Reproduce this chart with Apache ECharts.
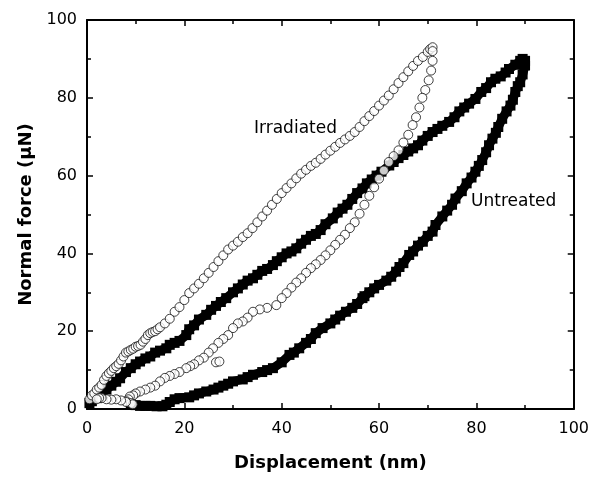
<!DOCTYPE html>
<html>
<head>
<meta charset="utf-8">
<script src="https://cdn.jsdelivr.net/npm/echarts@6/dist/echarts.min.js"></script>
<style>
html,body{margin:0;padding:0;background:#fff;}
#chart{width:592px;height:477px;}
</style>
</head>
<body>
<div id="chart"></div>
<script>
// ---- data (displacement nm, normal force uN) ----
var irradiatedLoading = [
  [0.5,2.5],[1,3.5],[1.5,4],[2,5],[2.5,5.5],[3,6.2],[3.5,7.5],[4,8.5],[4.5,9.2],[5,9.8],
  [5.5,10.5],[6,11],[6.5,11.6],[7,12.5],[7.5,13.5],[8,14.5],[8.5,14.8],[9,15.2],[9.5,15.5],[10,16],
  [10.5,16.2],[11,16.5],[11.5,17.3],[12,18],[12.5,19],[13,19.5],[13.5,19.8],[14,20],[14.5,20.5],[15,21],
  [16,22],[17,23.2],[18,25],[19,26.2],[20,28],[21,29.8],[22,31],[23,32.2],[24,33.6],[25,35],
  [26,36.5],[27,38],[28,39.5],[29,41],[30,42],[31,43],[32,44.2],[33,45.2],[34,46.5],[35,48],
  [36,49.5],[37,51],[38,52.5],[39,54],[40,55.5],[41,56.8],[42,58],[43,59.3],[44,60.5],[45,61.5],
  [46,62.5],[47,63.3],[48,64.3],[49,65.4],[50,66.4],[51,67.4],[52,68.4],[53,69.3],[54,70.2],[55,71.2],
  [56,72.5],[57,74],[58,75.3],[59,76.6],[60,78],[61,79.3],[62,80.6],[63,82.2],[64,83.8],[65,85.3],
  [66,86.8],[67,88.2],[68,89.5],[69,90.5],[70,91.8],[70.5,92.5],[71,93]
];
var irradiatedUnloading = [
  [71,92],[71,89.5],[70.7,87],[70.2,84.5],[69.5,82],[68.9,80],[68.3,77.5],[67.6,75],[66.9,73],[66,70.5],
  [65,68.5],[64,66.5],[63,65],[62,63.5],[61,61.3],[60,59.2],[59,57],[58,54.8],[57,52.5],[56,50.2],
  [55,48],[54,46.5],[53,44.8],[52,43.5],[51,42.2],[50,40.8],[49,39.5],[48,38.3],[47,37.2],[46,36.2],
  [45,35],[44,33.6],[43,32.5],[42,31.2],[41,29.8],[40,28.5],[38.9,26.7],[37,26],[35.5,25.6],[34.1,25],
  [33,23.5],[32,22.5],[31,22],[30,20.8],[29,19],[28,18],[27,17],[25.9,15.6],[25,14.5],[24,13.2],
  [23,12.5],[22,11.5],[21.2,11],[20.4,10.5],[19,9.5],[18,9],[17,8.5],[16,8],[15,7.1],[14,6],
  [13,5.5],[12,5],[10.9,4.5],[10,4],[9.5,3.5],[8.8,3.2],[8.5,2.5],[8.1,2],[9,1.5],[9.4,1.2],
  [8,1.8],[7,2.2],[6,2.5],[5,2.4],[4,2.5],[3,2.8],[2.5,2.8],[2,2.5],[26.5,12],[27.2,12.2]
];
var untreatedLoading = [
  [0.5,1.5],[1,2],[2,2.8],[3,4],[4,5],[5,6],[6,7],[6.8,7.9],[8,9.5],[9,10.5],
  [10,11.5],[10.9,12.2],[12,13],[13,13.5],[14,14.5],[15,15],[16.3,15.6],[17,16.5],[18,17],[19,17.5],
  [20.4,19],[21,20.5],[22,21.5],[23,23],[24.5,24.2],[25.5,25.5],[26.5,26.5],[27.5,27.5],[28.6,28.5],[30,30],
  [31,31],[32,32],[33,33],[34.1,33.6],[35,34.5],[36,35.5],[37,36],[38.2,37],[39,38],[40,39],
  [41,40],[42,40.5],[43,41.3],[44,42.5],[45,43.5],[46,44.5],[47,45],[48,46],[49,47.5],[50.5,49],
  [51.5,50.5],[52.5,51.5],[53.5,52.5],[54.5,54],[55.5,55.5],[56.6,56.7],[57.5,58],[58.5,59],[59.5,60],[60.5,61],
  [62.1,62.6],[63,63.5],[64,64.5],[65,65.3],[66,66.2],[67,67],[68,67.8],[68.9,69],[70,70.2],[71,71.2],
  [72,72],[73,72.8],[74.4,73.8],[75.5,75],[76.5,76.5],[77.5,77.5],[78.5,78.5],[79.8,79.7],[81,81.5],[82,82.5],
  [83,84],[83.9,84.9],[85,85.5],[86,86.5],[86.7,87.4],[88,88.5],[89,89.5],[89.5,90],[90,89.5]
];
var untreatedUnloading = [
  [90,88.3],[89.5,86],[89,84],[88.5,83],[88,81.5],[87.5,79.5],[87,78],[86.2,76.5],[85.3,74.6],[84.5,72.5],
  [84,71],[83.3,69.5],[82.6,67.8],[82,66],[81.2,64],[80.5,62.5],[79.8,61],[79,59.5],[78,58],[77,56],
  [75.7,54.1],[75,52.5],[74,51],[73,49.5],[71.6,47.3],[71,45.6],[70,44.5],[69,43],[68,42],[67,40.5],
  [66.2,39.6],[65,37.5],[64.2,36.5],[63.5,35.3],[62.5,34],[61.5,33],[60,31.9],[59,31],[58,30],[57,29],
  [56.6,28.5],[55.5,27],[54.5,26],[53.2,25],[52,24],[51,23],[50,22],[48.4,20.8],[47,19.5],[46,18],
  [45,17],[43.6,15.6],[42.5,14.5],[41.6,13.9],[40,12],[38.2,10.5],[37,10],[36,9.5],[34.1,8.8],[33,8.2],
  [32,7.6],[30,7.1],[29,6.5],[28,6],[27,5.5],[26,5],[24.5,4.5],[23,4],[22,3.5],[21,3],
  [19,2.8],[18,2.5],[17,1.8],[16.3,1.1],[15.5,0.7],[14.3,0.7],[13,0.8],[12,0.8],[10.9,0.8],[10,1],[9,1.2]
];
var xTicks = [0,20,40,60,80,100];
var yTicks = [0,20,40,60,80,100];
var xTitle = 'Displacement (nm)';
var yTitle = 'Normal force (\u03bcN)';
var labelIrr = 'Irradiated';
var labelUnt = 'Untreated';

var chart = echarts.init(document.getElementById('chart'), null, {renderer:'canvas'});
var axisCommon = {
  type:'value', min:0, max:100, interval:20,
  axisLine:{show:true, onZero:false, lineStyle:{color:'#000', width:2}},
  axisTick:{show:true, inside:true, length:6, lineStyle:{color:'#000', width:1.5}},
  minorTick:{show:true, splitNumber:2, length:4, lineStyle:{color:'#000', width:1.5}},
  splitLine:{show:false}
};
function ax(extra){ return Object.assign({}, JSON.parse(JSON.stringify(axisCommon)), extra); }
var tickFont = {fontFamily:'DejaVu Sans', fontSize:16, color:'#000'};
chart.setOption({
  animation:false,
  backgroundColor:'#fff',
  grid:{left:87, top:20, width:488, height:391, containLabel:false},
  xAxis:[
    ax({position:'bottom', name:xTitle, nameLocation:'middle', nameGap:45,
        nameTextStyle:{fontFamily:'DejaVu Sans', fontWeight:'bold', fontSize:18, color:'#000'},
        axisLabel:Object.assign({margin:12, formatter:function(v){return xTicks.indexOf(v)>=0?String(v):'';}}, tickFont)}),
    ax({position:'top', axisLabel:{show:false}})
  ],
  yAxis:[
    ax({position:'left', name:yTitle, nameLocation:'middle', nameGap:49,
        nameTextStyle:{fontFamily:'DejaVu Sans', fontWeight:'bold', fontSize:18, color:'#000'},
        axisLabel:Object.assign({margin:10, formatter:function(v){return yTicks.indexOf(v)>=0?String(v):'';}}, tickFont)}),
    ax({position:'right', axisLabel:{show:false}})
  ],
  series:[
    {type:'line', name:'Untreated', data:untreatedLoading.concat(untreatedUnloading),
     symbol:'rect', symbolSize:10, showAllSymbol:true,
     lineStyle:{color:'#000', width:9}, itemStyle:{color:'#000'}, z:2},
    {type:'scatter', name:'Irradiated', data:irradiatedLoading.concat(irradiatedUnloading),
     symbol:'circle', symbolSize:9,
     itemStyle:{color:'#fff', borderColor:'#111', borderWidth:1}, z:3}
  ],
  graphic:[
    {type:'text', left:254, top:120, style:{text:labelIrr, font:'17px "DejaVu Sans"', fill:'#000'}},
    {type:'text', left:471, top:193, style:{text:labelUnt, font:'17px "DejaVu Sans"', fill:'#000'}}
  ]
});
</script>
</body>
</html>
